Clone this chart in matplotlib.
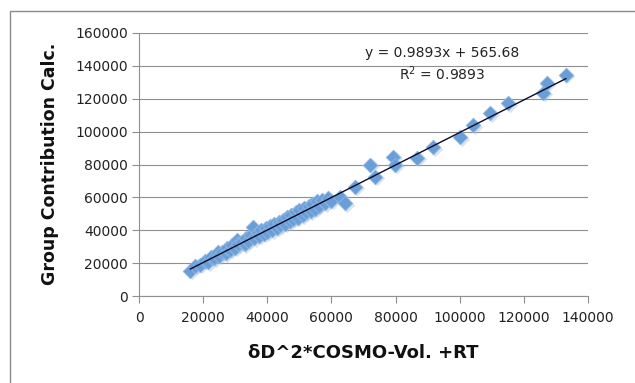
import matplotlib
matplotlib.use("Agg")
import matplotlib.pyplot as plt
from matplotlib.patches import Rectangle

x_vals = [16000, 17500, 19000, 20500, 21500, 22500, 23500, 24500, 25000, 26000,
          27000, 27500, 28500, 29000, 30000, 30500, 31000, 32000, 33000, 33500,
          34000, 35000, 35500, 36000, 37000, 37500, 38000, 39000, 39500, 40000,
          41000, 41500, 42000, 43000, 43500, 44000, 45000, 45500, 46000, 47000,
          47500, 48000, 49000, 49500, 50000, 51000, 51500, 52000, 53000, 53500,
          54000, 55000, 55500, 56000, 57000, 58000, 59000, 60000,
          62700, 64200, 67400, 72000, 73600, 79200, 79800, 86700, 91700,
          100100, 104200, 109500, 115100, 126000, 127100, 133100]
y_vals = [15500, 18500, 19000, 21500, 20500, 24000, 23000, 26500, 24500, 27000,
          26000, 29000, 28000, 31000, 29500, 34000, 31500, 33000, 31500, 35000,
          33500, 37000, 42000, 35000, 39000, 36500, 40000, 38000, 41500, 39000,
          42500, 40000, 44000, 41500, 45000, 43000, 46500, 44000, 48000, 45500,
          49000, 47000, 51000, 47500, 52500, 49000, 53500, 51000, 55000, 51500,
          56000, 53000, 57500, 55000, 58500, 56500, 59500, 58000,
          60200, 56500, 66300, 79700, 72400, 84600, 79700, 84000, 90600,
          96700, 104000, 111300, 117400, 123500, 129400, 134500]

slope = 0.9893
intercept = 565.68
eq_text = "y = 0.9893x + 565.68"
r2_text = "R$^2$ = 0.9893"
x_ticks = [0, 20000, 40000, 60000, 80000, 100000, 120000, 140000]
y_ticks = [0, 20000, 40000, 60000, 80000, 100000, 120000, 140000, 160000]

fig = plt.figure(figsize=(6.35, 3.83), dpi=100)
fig.patches.append(Rectangle((10/635, -0.1), 1.0, (383-11)/383 + 0.1, transform=fig.transFigure,
                             fill=False, edgecolor="#8a8a8a", linewidth=1.0))
ax = fig.add_axes([139/635, 1-296/383, (588-139)/635, (296-33)/383])

ax.set_xlim(0, 140000)
ax.set_ylim(0, 160000)
ax.set_xticks(x_ticks)
ax.set_yticks(y_ticks)
ax.set_xticklabels([str(t) for t in x_ticks])
ax.set_yticklabels([str(t) for t in y_ticks])
ax.grid(axis="y", color="#8f8f8f", linewidth=0.8)
ax.set_axisbelow(True)
for s in ["top", "right"]:
    ax.spines[s].set_visible(False)
for s in ["left", "bottom"]:
    ax.spines[s].set_color("#8f8f8f")
    ax.spines[s].set_linewidth(0.8)
ax.tick_params(axis="both", colors="#8f8f8f", labelcolor="#222222", labelsize=10, length=5, width=0.8)
ax.tick_params(axis="y", pad=3)
ax.tick_params(axis="x", pad=6)

# soft shadow
ax.scatter([x + 500 for x in x_vals], [y - 900 for y in y_vals], marker="D", s=62,
           color="#a9bdd3", alpha=0.4, linewidths=0, zorder=2)
ax.scatter(x_vals, y_vals, marker="D", s=55, color="#6a9ed6", edgecolors="#8db6e3",
           linewidths=0.6, zorder=3)
lx = [min(x_vals), max(x_vals)]
ax.plot(lx, [slope * v + intercept for v in lx], color="#0b0b2a", linewidth=1.0, zorder=4)

fig.text(442/635, 1-53/383, eq_text, fontsize=10, ha="center", va="center", color="#222222")
fig.text(442/635, 1-74/383, r2_text, fontsize=10, ha="center", va="center", color="#222222")

fig.text(363/635, 1-353/383, "δD^2*COSMO-Vol. +RT", fontsize=13, fontweight="bold",
         ha="center", va="center", color="#111111")
fig.text(50/635, 1-164/383, "Group Contribution Calc.", fontsize=12.5, fontweight="bold",
         ha="center", va="center", rotation=90, color="#111111")

fig.savefig("out.png", dpi=100)
